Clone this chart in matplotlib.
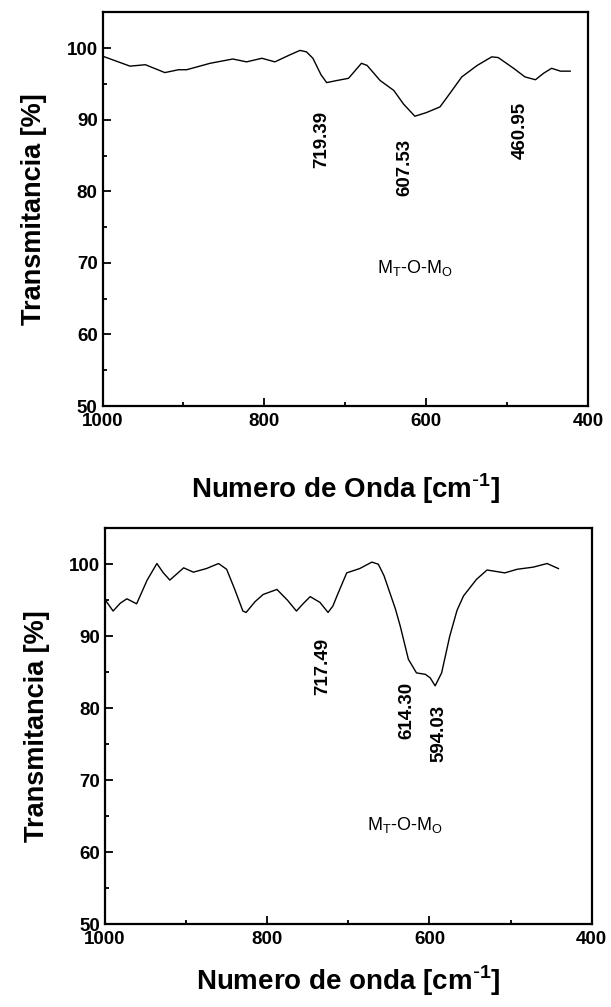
import matplotlib

matplotlib.use("Agg")
import matplotlib.pyplot as plt
from matplotlib.ticker import MultipleLocator

plt.rcParams["font.family"] = ["Liberation Sans", "DejaVu Sans"]

# top spectrum (wavenumber cm-1, transmittance %)
top_wn = [1000, 966, 947, 923, 906, 896, 867, 839, 822, 803, 787, 770, 756, 748, 740,
          730, 723, 710, 696, 680, 673, 657, 640, 628, 614, 600, 583, 570, 556, 537,
          519, 511, 492, 478, 465, 455, 445, 434, 422]
top_t = [98.9, 97.5, 97.7, 96.6, 97.0, 97.0, 97.9, 98.5, 98.1, 98.6, 98.1, 99.0, 99.7,
         99.5, 98.6, 96.3, 95.2, 95.5, 95.8, 97.9, 97.6, 95.5, 94.1, 92.2, 90.5, 91.0,
         91.8, 93.8, 96.0, 97.6, 98.8, 98.7, 97.2, 96.0, 95.6, 96.5, 97.2, 96.8, 96.8]

# bottom spectrum
bot_wn = [1000, 990, 981, 973, 961, 948, 936, 928, 920, 903, 891, 875, 860, 850, 840,
          830, 826, 815, 805, 788, 775, 764, 755, 747, 735, 725, 719, 714, 702, 686,
          671, 663, 656, 649, 642, 636, 626, 616, 605, 599, 593, 585, 575, 566, 558,
          542, 529, 507, 492, 472, 455, 441]
bot_t = [95.1, 93.5, 94.6, 95.2, 94.5, 97.8, 100.1, 98.8, 97.8, 99.5, 98.9, 99.4, 100.1,
         99.3, 96.5, 93.5, 93.3, 94.8, 95.8, 96.5, 95.0, 93.5, 94.6, 95.5, 94.7, 93.3,
         94.2, 95.6, 98.8, 99.4, 100.3, 100.0, 98.4, 96.1, 93.8, 91.4, 86.8, 84.9, 84.7,
         84.2, 83.1, 84.9, 90.0, 93.6, 95.6, 97.9, 99.2, 98.8, 99.3, 99.6, 100.1, 99.4]

top_peaks = ["719.39", "607.53", "460.95"]
top_peak_pos = [(729, 87.2), (626, 83.3), (484, 88.5)]
bot_peaks = ["717.49", "614.30", "594.03"]
bot_peak_pos = [(731, 85.8), (628, 79.7), (588, 76.5)]


def panel(ax, wn, t, xlabel, xpad, peaks, peak_pos, mlabel_pos):
    ax.plot(wn, t, color="black", lw=1.0)
    ax.set_xlim(1000, 400)
    ax.set_ylim(50, 105)
    ax.xaxis.set_major_locator(MultipleLocator(200))
    ax.xaxis.set_minor_locator(MultipleLocator(100))
    ax.yaxis.set_major_locator(MultipleLocator(10))
    ax.yaxis.set_minor_locator(MultipleLocator(5))
    ax.tick_params(which="both", direction="in", top=False, right=False,
                   labelsize=13.5, width=1.3)
    ax.tick_params(which="major", length=6)
    ax.tick_params(which="minor", length=3)
    ax.tick_params(axis="x", pad=5)
    for lab in ax.get_xticklabels() + ax.get_yticklabels():
        lab.set_fontweight("bold")
    for s in ax.spines.values():
        s.set_linewidth(1.6)
    ax.set_ylabel("Transmitancia [%]", fontsize=19.5, fontweight="bold", labelpad=14)
    ax.set_xlabel(xlabel, fontsize=20, fontweight="bold", labelpad=xpad)
    for txt, (x, y) in zip(peaks, peak_pos):
        ax.text(x, y, txt, rotation=90, ha="center", va="center",
                fontsize=13.5, fontweight="bold")
    ax.text(*mlabel_pos, r"M$_\mathregular{T}$-O-M$_\mathregular{O}$",
            ha="center", va="center", fontsize=13)


fig = plt.figure(figsize=(6.11, 10.07), dpi=100)
ax1 = fig.add_axes([0.1678, 0.5968, 0.7946, 0.3908])
ax2 = fig.add_axes([0.1718, 0.0824, 0.7966, 0.3930])

panel(ax1, top_wn, top_t, r"Numero de Onda [cm$^{\mathregular{\text{-}1}}$]", 30,
      top_peaks, top_peak_pos, (614, 69.3))
panel(ax2, bot_wn, bot_t, r"Numero de onda [cm$^{\mathregular{\text{-}1}}$]", 11,
      bot_peaks, bot_peak_pos, (630, 63.8))

fig.savefig("out.png", dpi=100)
